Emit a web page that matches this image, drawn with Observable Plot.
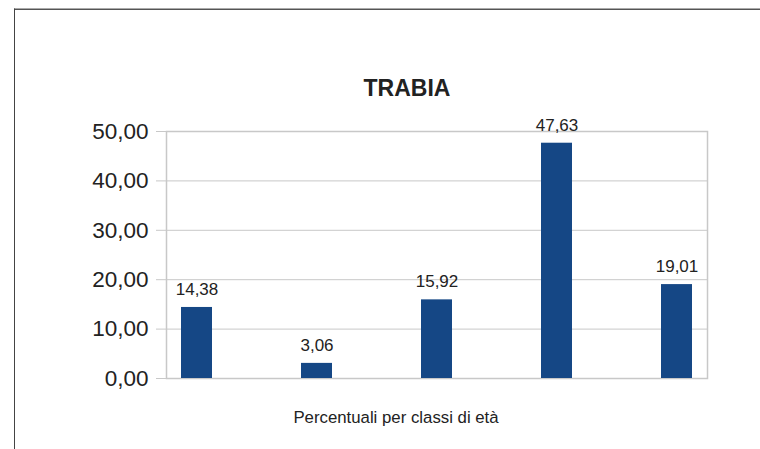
<!DOCTYPE html>
<html>
<head>
<meta charset="utf-8">
<script src="https://cdn.jsdelivr.net/npm/d3@7"></script>
<script src="https://cdn.jsdelivr.net/npm/@observablehq/plot@0.6"></script>
<style>
  html, body { margin: 0; padding: 0; background: #fff; }
  #wrap { position: relative; width: 760px; height: 449px; overflow: hidden; font-family: "Liberation Sans", Arial, sans-serif; }
  #border { position: absolute; left: 14px; top: 8px; width: 800px; height: 500px; border-top: 1px solid #aaa; border-left: 1px solid #444; box-shadow: inset 0 1px 0 #555; }
  #chart { position: absolute; left: 0; top: 0; }
</style>
</head>
<body>
<div id="wrap"><div id="border"></div><div id="chart"></div></div>
<script>
const title = "TRABIA";
const xLabel = "Percentuali per classi di età";
const categories = ["Classe 1", "Classe 2", "Classe 3", "Classe 4", "Classe 5"];
const values = [14.38, 3.06, 15.92, 47.63, 19.01];
const yTicks = [0, 10, 20, 30, 40, 50];

const data = categories.map((c, i) => ({ cat: c, value: values[i] }));
const fmt = v => d3.format(".2f")(v).replace(".", ",");

const chart = Plot.plot({
  width: 760,
  height: 449,
  marginLeft: 166,
  marginRight: 53,
  marginTop: 131,
  marginBottom: 71,
  style: { fontFamily: "'Liberation Sans', Arial, sans-serif", background: "transparent", color: "#222" },
  x: { domain: categories, paddingInner: 0.742, paddingOuter: 0.12, axis: null },
  y: { domain: [0, 50] },
  marks: [
    Plot.gridY(yTicks, { stroke: "#c8c8c8", strokeOpacity: 1 }),
    Plot.frame({ stroke: "#c8c8c8", strokeWidth: 1.5 }),
    Plot.axisY(yTicks, { label: null, tickFormat: fmt, tickSize: 10, tickPadding: 8, fontSize: 22.5, stroke: "#c8c8c8", fill: "#222" }),
    Plot.barY(data, { x: "cat", y: "value", fill: "#154785" }),
    Plot.text(data, { x: "cat", y: "value", text: d => fmt(d.value), dy: -18, fontSize: 17, fill: "#222" }),
    Plot.text([title], { frameAnchor: "top", lineAnchor: "middle", dx: -30, dy: -43, fontSize: 23, fontWeight: "bold", fill: "#222" }),
    Plot.text([xLabel], { frameAnchor: "bottom", lineAnchor: "middle", dx: -41, dy: 39, fontSize: 16.8, fill: "#222" })
  ]
});
document.getElementById("chart").appendChild(chart);
</script>
</body>
</html>
